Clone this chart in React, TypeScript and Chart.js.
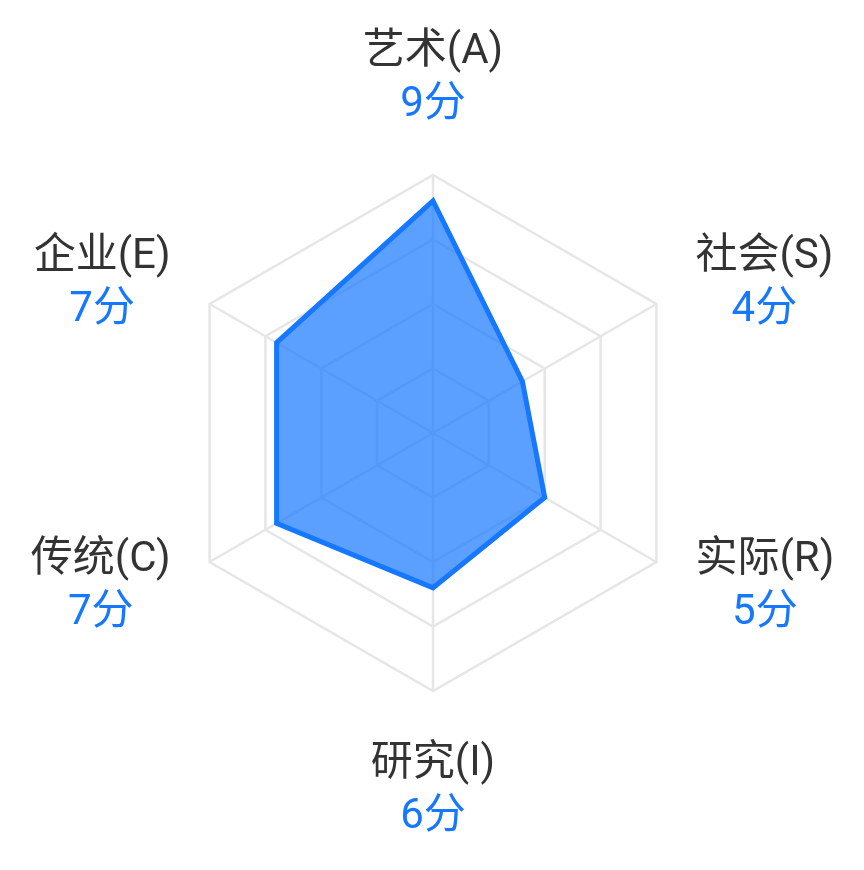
import React, { useEffect, useRef } from "react";
import { Chart, registerables } from "chart.js";

Chart.register(...registerables);

const dimensions = ["艺术(A)", "社会(S)", "实际(R)", "研究(I)", "传统(C)", "企业(E)"];
const scores = [9, 4, 5, 6, 7, 7];
const scoreUnit = "分";
const maxScore = 10;
const stepScore = 2.5;

const BLUE = "#1677ff";
const FONT = "Roboto, 'Noto Sans CJK SC', sans-serif";

const labelPlugin = {
  id: "twoLineLabels",
  afterDraw(chart: any) {
    const scale = chart.scales.r;
    const ctx = chart.ctx;
    const lineH = 53;
    const fontSize = 42;
    const yShift = 2;
    ctx.save();
    ctx.textBaseline = "middle";
    ctx.textAlign = "center";
    for (let i = 0; i < dimensions.length; i++) {
      const pos = scale.getPointPosition(i, scale.drawingArea + 45);
      const lines = [dimensions[i], scores[i] + scoreUnit];
      ctx.font = `${fontSize}px ${FONT}`;
      const widths = lines.map((l) => ctx.measureText(l).width);
      const w = Math.max(...widths);
      const dx = pos.x - scale.xCenter;
      const dy = pos.y - scale.yCenter;
      let cx = pos.x;
      if (Math.abs(dx) > 5) cx = dx > 0 ? pos.x + w / 2 : pos.x - w / 2;
      let top: number;
      const h = lineH * lines.length;
      if (Math.abs(dx) <= 5) {
        top = dy < 0 ? pos.y - h : pos.y;
      } else {
        top = pos.y - h / 2;
      }
      lines.forEach((l, k) => {
        ctx.fillStyle = k === 0 ? "#333333" : BLUE;
        ctx.fillText(l, cx, top + lineH * k + lineH / 2 + yShift);
      });
    }
    ctx.restore();
  },
};

export default function App() {
  const ref = useRef<HTMLCanvasElement | null>(null);
  useEffect(() => {
    if (!ref.current) return;
    const chart = new Chart(ref.current, {
      type: "radar",
      data: {
        labels: dimensions,
        datasets: [
          {
            data: scores,
            backgroundColor: "rgba(22,119,255,0.7)",
            borderColor: BLUE,
            borderWidth: 5,
            pointRadius: 0,
            pointHoverRadius: 0,
            fill: true,
          },
        ],
      },
      options: {
        responsive: false,
        animation: false,
        layout: { padding: { left: 175, right: 173, top: 175, bottom: 179 } },
        plugins: { legend: { display: false }, tooltip: { enabled: false } },
        scales: {
          r: {
            min: 0,
            max: maxScore,
            ticks: { display: false, stepSize: stepScore },
            pointLabels: { display: false },
            grid: { color: "#e6e6e6", lineWidth: 2.5 },
            angleLines: { color: "#e6e6e6", lineWidth: 2.5 },
          },
        },
      },
      plugins: [labelPlugin],
    });
    return () => chart.destroy();
  }, []);
  return (
    <div style={{ position: "absolute", left: 0, top: 0, width: 864, height: 870, background: "#fff" }}>
      <canvas ref={ref} width={864} height={870} style={{ width: 864, height: 870 }} />
    </div>
  );
}
